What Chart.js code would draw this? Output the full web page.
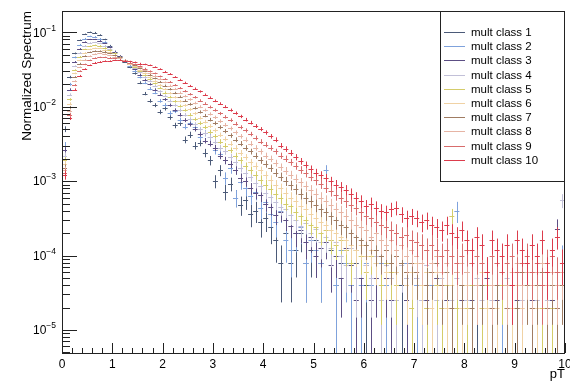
<!DOCTYPE html>
<html>
<head>
<meta charset="UTF-8">
<title>Normalized Spectrum</title>
<script src="https://cdn.jsdelivr.net/npm/chart.js@4.4.0/dist/chart.umd.min.js"></script>
<style>
    html, body { margin: 0; padding: 0; background: #fff; }
</style>
</head>
<body>
<canvas id="spectrum" width="570" height="384"></canvas>
<script>
// pT binning: 100 bins of 0.1 from 0 to 10
var binWidth = 0.1;
var binCenters = [
    0.05, 0.15, 0.25, 0.35, 0.45, 0.55, 0.65, 0.75, 0.85, 0.95,
    1.05, 1.15, 1.25, 1.35, 1.45, 1.55, 1.65, 1.75, 1.85, 1.95,
    2.05, 2.15, 2.25, 2.35, 2.45, 2.55, 2.65, 2.75, 2.85, 2.95,
    3.05, 3.15, 3.25, 3.35, 3.45, 3.55, 3.65, 3.75, 3.85, 3.95,
    4.05, 4.15, 4.25, 4.35, 4.45, 4.55, 4.65, 4.75, 4.85, 4.95,
    5.05, 5.15, 5.25, 5.35, 5.45, 5.55, 5.65, 5.75, 5.85, 5.95,
    6.05, 6.15, 6.25, 6.35, 6.45, 6.55, 6.65, 6.75, 6.85, 6.95,
    7.05, 7.15, 7.25, 7.35, 7.45, 7.55, 7.65, 7.75, 7.85, 7.95,
    8.05, 8.15, 8.25, 8.35, 8.45, 8.55, 8.65, 8.75, 8.85, 8.95,
    9.05, 9.15, 9.25, 9.35, 9.45, 9.55, 9.65, 9.75, 9.85, 9.95
];

var classLabels = ['mult class 1', 'mult class 2', 'mult class 3', 'mult class 4', 'mult class 5',
                   'mult class 6', 'mult class 7', 'mult class 8', 'mult class 9', 'mult class 10'];
var classColors = ['#4b5a78', '#7fa2dc', '#5c4e84', '#c2c0d8', '#d4cc6a',
                   '#f0d2a4', '#a07c62', '#e6b4a4', '#d86c6c', '#dc3c4c'];
// entries per class, used for the statistical errors of the normalized bins
var classEntries = [25000, 25000, 40000, 40000, 50000, 50000, 50000, 50000, 50000, 50000];

var mult1 = [
    5.0e-3, 2.5e-2, 5.2e-2, 7.8e-2, 9.4e-2, 1.0e-1, 9.9e-2, 9.2e-2, 8.0e-2, 6.6e-2,
    5.5e-2, 4.7e-2, 4.0e-2, 3.4e-2, 2.8e-2, 2.1e-2, 1.5e-2, 1.2e-2, 1.05e-2, 8.5e-3,
    9.5e-3, 7.2e-3, 5.6e-3, 6.0e-3, 3.6e-3, 4.2e-3, 3.0e-3, 3.3e-3, 2.4e-3, 1.9e-3,
    1.0e-3, 1.4e-3, 7.2e-4, 9.2e-4, 6.0e-4, 4.8e-4, 5.6e-4, 3.6e-4, 4.0e-4, 2.8e-4,
    3.2e-4, 2.4e-4, 1.6e-4, 8e-5, 2.0e-4, 8e-5, 1.2e-4, 2.0e-4, 8e-5, 1.2e-4,
    1.6e-4, 8e-5, null, 1.2e-4, 4e-5, 8e-5, 1.2e-4, 4e-5, 8e-5, null,
    4e-5, null, 8e-5, null, 4e-5, null, null, 4e-5, null, null,
    null, 4e-5, null, null, null, 4e-5, null, null, null, null,
    null, null, 4e-5, null, null, null, null, null, 4e-5, null,
    null, null, null, null, null, 4e-5, null, null, null, null
];
var mult2 = [
    3.0e-3, 2.0e-2, 4.6e-2, 6.8e-2, 8.2e-2, 8.8e-2, 8.7e-2, 8.2e-2, 7.4e-2, 6.4e-2,
    5.5e-2, 4.8e-2, 4.1e-2, 3.5e-2, 3.0e-2, 2.5e-2, 2.1e-2, 1.75e-2, 1.55e-2, 1.2e-2,
    1.05e-2, 8.2e-3, 8.8e-3, 6.6e-3, 5.4e-3, 6.0e-3, 5.4e-3, 3.9e-3, 4.4e-3, 3.9e-3,
    2.6e-3, 2.3e-3, 1.1e-3, 1.5e-3, 6.0e-4, 9.6e-4, 8.0e-4, 6.4e-4, 7.2e-4, 4.4e-4,
    5.2e-4, 3.6e-4, 2.8e-4, 4.0e-4, 1.6e-4, 1.2e-4, 2.0e-4, 2.4e-4, 8e-5, 1.6e-4,
    1.2e-4, 8e-5, 1.4e-3, 1.6e-4, 4e-5, 1.2e-4, 8e-5, 4e-5, 1.2e-4, 4e-5,
    8e-5, 4e-5, null, 8e-5, 4e-5, null, 4e-5, null, 8e-5, null,
    4e-5, null, null, 4e-5, null, null, 4e-5, null, 4.0e-4, null,
    null, 4e-5, null, 4e-5, null, null, null, 4e-5, null, null,
    4e-5, null, null, null, 4e-5, null, null, null, null, 8e-5
];
var mult3 = [
    2.6e-3, 1.7e-2, 4.0e-2, 6.0e-2, 7.4e-2, 8.0e-2, 8.0e-2, 7.7e-2, 7.1e-2, 6.3e-2,
    5.5e-2, 4.8e-2, 4.2e-2, 3.7e-2, 3.2e-2, 2.7e-2, 2.3e-2, 2.0e-2, 1.7e-2, 1.45e-2,
    1.25e-2, 1.05e-2, 9.0e-3, 7.8e-3, 6.6e-3, 5.8e-3, 5.0e-3, 4.3e-3, 3.5e-3, 3.2e-3,
    2.8e-3, 2.2e-3, 1.9e-3, 1.7e-3, 1.4e-3, 1.1e-3, 1.0e-3, 8.0e-4, 7.0e-4, 6.5e-4,
    5.0e-4, 4.5e-4, 3.5e-4, 3.8e-4, 3.0e-4, 2.5e-4, 2.0e-4, 2.2e-4, 1.5e-4, 1.75e-4,
    1.0e-4, 1.25e-4, 1.5e-4, 7.5e-5, 1.0e-4, 5e-5, 1.25e-4, 7.5e-5, 2.5e-5, 5e-5,
    7.5e-5, 2.5e-5, 5e-5, null, 5e-5, 2.5e-5, null, 7.5e-5, 2.5e-5, null,
    5e-5, null, 2.5e-5, null, 5e-5, null, 2.5e-5, null, null, 2.5e-5,
    null, 2.5e-5, null, null, 5e-5, null, 2.5e-5, null, null, null,
    2.5e-5, null, null, 2.5e-5, null, null, null, 2.5e-5, 2.3e-4, null
];
var mult4 = [
    2.2e-3, 1.45e-2, 3.5e-2, 5.3e-2, 6.6e-2, 7.2e-2, 7.3e-2, 7.1e-2, 6.6e-2, 6.0e-2,
    5.3e-2, 4.7e-2, 4.2e-2, 3.7e-2, 3.3e-2, 2.9e-2, 2.5e-2, 2.2e-2, 1.9e-2, 1.6e-2,
    1.4e-2, 1.2e-2, 1.05e-2, 9.0e-3, 7.8e-3, 6.8e-3, 5.8e-3, 5.0e-3, 4.4e-3, 3.9e-3,
    3.4e-3, 2.8e-3, 2.5e-3, 2.1e-3, 1.8e-3, 1.5e-3, 1.3e-3, 1.15e-3, 9.5e-4, 8.5e-4,
    7.0e-4, 6.2e-4, 5.2e-4, 4.5e-4, 4.2e-4, 3.5e-4, 3.0e-4, 2.5e-4, 2.75e-4, 2.0e-4,
    2.25e-4, 1.5e-4, 1.75e-4, 1.25e-4, 1.5e-4, 1.0e-4, 7.5e-5, 1.25e-4, 5e-5, 1.0e-4,
    7.5e-5, 5e-5, 1.0e-4, 2.5e-5, 7.5e-5, 5e-5, 2.5e-5, 7.5e-5, 5e-5, null,
    5e-5, 2.5e-5, 7.5e-5, null, 2.5e-5, 5e-5, null, 2.5e-5, 5e-5, null,
    2.5e-5, null, 5e-5, 2.5e-5, null, 2.5e-5, null, null, 5e-5, null,
    null, 2.5e-5, null, null, 2.5e-5, null, 2.5e-5, null, null, 5.5e-4
];
var mult5 = [
    1.9e-3, 1.25e-2, 3.1e-2, 4.7e-2, 5.9e-2, 6.5e-2, 6.7e-2, 6.6e-2, 6.2e-2, 5.8e-2,
    5.2e-2, 4.7e-2, 4.2e-2, 3.8e-2, 3.4e-2, 3.0e-2, 2.65e-2, 2.35e-2, 2.05e-2, 1.8e-2,
    1.55e-2, 1.35e-2, 1.18e-2, 1.02e-2, 9.0e-3, 7.8e-3, 6.8e-3, 6.0e-3, 5.3e-3, 4.6e-3,
    4.0e-3, 3.4e-3, 3.0e-3, 2.6e-3, 2.2e-3, 1.9e-3, 1.6e-3, 1.4e-3, 1.2e-3, 1.05e-3,
    9.0e-4, 7.8e-4, 6.8e-4, 6.0e-4, 5.0e-4, 4.6e-4, 3.8e-4, 3.4e-4, 3.0e-4, 2.6e-4,
    2.4e-4, 2.0e-4, 2.2e-4, 1.6e-4, 1.4e-4, 1.6e-4, 1.2e-4, 8e-5, 1.2e-4, 1.0e-4,
    6e-5, 1.0e-4, 8e-5, 4e-5, 8e-5, 6e-5, 4e-5, 8e-5, 6e-5, 2e-5,
    6e-5, 4e-5, 2e-5, 6e-5, 4e-5, 2e-5, 4e-5, 3.4e-4, 2e-5, 4e-5,
    2e-5, 4e-5, null, 2e-5, 4e-5, 2e-5, null, 4e-5, 2e-5, null,
    2e-5, null, 4e-5, 2e-5, null, 2e-5, null, 2e-5, 4e-5, null
];
var mult6 = [
    1.7e-3, 1.1e-2, 2.8e-2, 4.2e-2, 5.3e-2, 5.9e-2, 6.1e-2, 6.1e-2, 5.8e-2, 5.5e-2,
    5.0e-2, 4.6e-2, 4.2e-2, 3.8e-2, 3.5e-2, 3.1e-2, 2.8e-2, 2.5e-2, 2.2e-2, 1.95e-2,
    1.72e-2, 1.52e-2, 1.34e-2, 1.18e-2, 1.04e-2, 9.2e-3, 8.1e-3, 7.1e-3, 6.3e-3, 5.5e-3,
    4.8e-3, 4.2e-3, 3.7e-3, 3.2e-3, 2.8e-3, 2.4e-3, 2.1e-3, 1.8e-3, 1.6e-3, 1.4e-3,
    1.2e-3, 1.05e-3, 9.0e-4, 8.0e-4, 7.0e-4, 6.0e-4, 5.4e-4, 4.6e-4, 4.2e-4, 3.6e-4,
    3.2e-4, 2.8e-4, 2.6e-4, 2.2e-4, 2.0e-4, 1.8e-4, 1.6e-4, 1.4e-4, 1.2e-4, 1.4e-4,
    1.0e-4, 1.2e-4, 8e-5, 1.0e-4, 6e-5, 8e-5, 6e-5, 8e-5, 4e-5, 6e-5,
    8e-5, 4e-5, 6e-5, 2e-5, 6e-5, 4e-5, 2e-5, 4e-5, 6e-5, 2e-5,
    4e-5, 2e-5, 4e-5, 6e-5, 2e-5, 4e-5, 2e-5, null, 4e-5, 2e-5,
    4e-5, 2e-5, null, 4e-5, 2e-5, 4e-5, 2e-5, null, 2e-5, 4e-5
];
var mult7 = [
    1.5e-3, 9.8e-3, 2.5e-2, 3.8e-2, 4.8e-2, 5.4e-2, 5.6e-2, 5.6e-2, 5.5e-2, 5.2e-2,
    4.9e-2, 4.6e-2, 4.2e-2, 3.9e-2, 3.6e-2, 3.3e-2, 3.0e-2, 2.7e-2, 2.4e-2, 2.15e-2,
    1.92e-2, 1.72e-2, 1.53e-2, 1.36e-2, 1.21e-2, 1.08e-2, 9.6e-3, 8.5e-3, 7.6e-3, 6.7e-3,
    6.0e-3, 5.3e-3, 4.7e-3, 4.1e-3, 3.6e-3, 3.2e-3, 2.8e-3, 2.5e-3, 2.2e-3, 1.9e-3,
    1.7e-3, 1.5e-3, 1.3e-3, 1.15e-3, 1.0e-3, 8.8e-4, 7.8e-4, 6.8e-4, 6.0e-4, 5.4e-4,
    4.8e-4, 4.2e-4, 3.8e-4, 3.4e-4, 3.0e-4, 2.6e-4, 2.4e-4, 2.0e-4, 1.8e-4, 1.6e-4,
    1.4e-4, 1.6e-4, 1.2e-4, 1.0e-4, 1.2e-4, 8e-5, 1.0e-4, 8e-5, 6e-5, 8e-5,
    6e-5, 8e-5, 4e-5, 6e-5, 8e-5, 4e-5, 6e-5, 2e-5, 6e-5, 4e-5,
    6e-5, 2e-5, 4e-5, 4e-5, 6e-5, 2e-5, 4e-5, 6e-5, 2e-5, 4e-5,
    2e-5, 6e-5, 4e-5, 2e-5, 4e-5, 6e-5, 2e-5, 4e-5, 2e-5, 4e-5
];
var mult8 = [
    1.4e-3, 8.8e-3, 2.2e-2, 3.4e-2, 4.3e-2, 4.8e-2, 5.1e-2, 5.2e-2, 5.1e-2, 4.9e-2,
    4.7e-2, 4.5e-2, 4.2e-2, 3.9e-2, 3.7e-2, 3.4e-2, 3.1e-2, 2.85e-2, 2.6e-2, 2.35e-2,
    2.12e-2, 1.92e-2, 1.73e-2, 1.55e-2, 1.39e-2, 1.25e-2, 1.12e-2, 1.0e-2, 9.0e-3, 8.0e-3,
    7.2e-3, 6.4e-3, 5.7e-3, 5.1e-3, 4.5e-3, 4.0e-3, 3.6e-3, 3.2e-3, 2.8e-3, 2.5e-3,
    2.2e-3, 2.0e-3, 1.75e-3, 1.55e-3, 1.38e-3, 1.22e-3, 1.08e-3, 9.6e-4, 8.6e-4, 7.6e-4,
    6.8e-4, 6.0e-4, 5.4e-4, 4.8e-4, 4.2e-4, 3.8e-4, 3.4e-4, 3.0e-4, 2.6e-4, 2.4e-4,
    2.2e-4, 1.8e-4, 2.0e-4, 1.6e-4, 1.4e-4, 1.6e-4, 1.2e-4, 1.4e-4, 1.0e-4, 1.2e-4,
    1.0e-4, 8e-5, 1.2e-4, 8e-5, 1.0e-4, 6e-5, 8e-5, 1.0e-4, 6e-5, 8e-5,
    6e-5, 8e-5, 4e-5, 8e-5, 6e-5, 4e-5, 8e-5, 6e-5, 4e-5, 6e-5,
    8e-5, 4e-5, 6e-5, 4e-5, 6e-5, 8e-5, 4e-5, 6e-5, 4e-5, 6e-5
];
var mult9 = [
    1.3e-3, 7.8e-3, 1.95e-2, 3.0e-2, 3.7e-2, 4.2e-2, 4.5e-2, 4.6e-2, 4.6e-2, 4.55e-2,
    4.45e-2, 4.3e-2, 4.1e-2, 3.9e-2, 3.7e-2, 3.5e-2, 3.25e-2, 3.0e-2, 2.8e-2, 2.55e-2,
    2.35e-2, 2.15e-2, 1.95e-2, 1.78e-2, 1.62e-2, 1.47e-2, 1.34e-2, 1.21e-2, 1.1e-2, 9.9e-3,
    9.0e-3, 8.1e-3, 7.3e-3, 6.6e-3, 5.9e-3, 5.3e-3, 4.8e-3, 4.3e-3, 3.8e-3, 3.4e-3,
    3.1e-3, 2.8e-3, 2.5e-3, 2.2e-3, 2.0e-3, 1.8e-3, 1.6e-3, 1.42e-3, 1.28e-3, 1.15e-3,
    1.02e-3, 9.2e-4, 8.2e-4, 7.4e-4, 6.6e-4, 6.0e-4, 5.4e-4, 4.8e-4, 4.4e-4, 3.8e-4,
    3.4e-4, 3.2e-4, 2.8e-4, 2.6e-4, 2.4e-4, 2.2e-4, 2.0e-4, 1.8e-4, 1.9e-4, 1.6e-4,
    1.5e-4, 1.4e-4, 1.2e-4, 1.4e-4, 1.2e-4, 1.0e-4, 1.2e-4, 1.0e-4, 8e-5, 1.0e-4,
    1.2e-4, 8e-5, 1.0e-4, 8e-5, 6e-5, 1.0e-4, 8e-5, 6e-5, 8e-5, 1.0e-4,
    6e-5, 8e-5, 1.0e-4, 6e-5, 8e-5, 4e-5, 8e-5, 1.0e-4, 6e-5, 8e-5
];
var mult10 = [
    1.2e-3, 7.0e-3, 1.7e-2, 2.6e-2, 3.2e-2, 3.6e-2, 3.9e-2, 4.0e-2, 4.1e-2, 4.1e-2,
    4.2e-2, 4.2e-2, 4.15e-2, 4.05e-2, 3.95e-2, 3.8e-2, 3.7e-2, 3.6e-2, 3.4e-2, 3.2e-2,
    2.95e-2, 2.75e-2, 2.5e-2, 2.3e-2, 2.1e-2, 1.9e-2, 1.75e-2, 1.6e-2, 1.45e-2, 1.32e-2,
    1.2e-2, 1.1e-2, 1.0e-2, 9.0e-3, 8.2e-3, 7.4e-3, 6.7e-3, 6.1e-3, 5.5e-3, 5.0e-3,
    4.5e-3, 4.0e-3, 3.6e-3, 3.0e-3, 2.7e-3, 2.4e-3, 2.1e-3, 1.85e-3, 1.65e-3, 1.45e-3,
    1.3e-3, 1.2e-3, 1.1e-3, 1.0e-3, 9.0e-4, 8.4e-4, 7.6e-4, 6.8e-4, 6.0e-4, 5.4e-4,
    4.6e-4, 5.0e-4, 4.4e-4, 4.0e-4, 3.8e-4, 4.2e-4, 4.4e-4, 3.6e-4, 3.2e-4, 3.4e-4,
    3.2e-4, 2.8e-4, 3.0e-4, 2.6e-4, 2.4e-4, 2.2e-4, 2.6e-4, 2.0e-4, 1.8e-4, 2.2e-4,
    1.6e-4, 1.2e-4, 1.8e-4, 1.4e-4, 6e-5, 1.6e-4, 1.2e-4, 1.0e-4, 1.4e-4, 4e-5,
    1.6e-4, 1.2e-4, 8e-5, 1.4e-4, 1.0e-4, 1.6e-4, 6e-5, 1.2e-4, 1.8e-4, 8e-5
];

var classValues = [mult1, mult2, mult3, mult4, mult5, mult6, mult7, mult8, mult9, mult10];
var yDecades = [1e-1, 1e-2, 1e-3, 1e-4, 1e-5];
var xMajorTicks = [0, 1, 2, 3, 4, 5, 6, 7, 8, 9, 10];

var fontFamily = '"Liberation Sans", Arial, Helvetica, sans-serif';

// one dataset per multiplicity class, each bin carries its poisson error
var datasets = classValues.map(function (values, c) {
    var points = [];
    for (var i = 0; i < values.length; i++) {
        if (values[i] === null) continue;
        points.push({x: binCenters[i], y: values[i], err: Math.sqrt(values[i] / classEntries[c])});
    }
    return {
        label: classLabels[c],
        data: points,
        borderColor: classColors[c],
        backgroundColor: classColors[c],
        pointRadius: 0,
        showLine: false
    };
});

// horizontal bin width + vertical error, like a histogram drawn with "E"
var errorBars = {
    id: 'errorBars',
    afterDatasetsDraw: function (chart) {
        var ctx = chart.ctx, xs = chart.scales.x, ys = chart.scales.y, a = chart.chartArea;
        ctx.save();
        ctx.beginPath();
        ctx.rect(a.left, a.top, a.right - a.left, a.bottom - a.top);
        ctx.clip();
        ctx.lineWidth = 1;
        chart.data.datasets.forEach(function (ds) {
            ctx.strokeStyle = ds.borderColor;
            ctx.beginPath();
            ds.data.forEach(function (p) {
                var yc = Math.round(ys.getPixelForValue(p.y)) + 0.5;
                var xc = Math.round(xs.getPixelForValue(p.x)) + 0.5;
                var x0 = xs.getPixelForValue(p.x - binWidth / 2);
                var x1 = xs.getPixelForValue(p.x + binWidth / 2);
                var lo = p.y - p.err;
                var yTop = ys.getPixelForValue(p.y + p.err);
                var yBot = lo > ys.min ? ys.getPixelForValue(lo) : a.bottom;
                ctx.moveTo(x0, yc);
                ctx.lineTo(x1, yc);
                ctx.moveTo(xc, yTop);
                ctx.lineTo(xc, yBot);
            });
            ctx.stroke();
        });
        ctx.restore();
    }
};

// frame, inward ticks, 10^n labels and the legend box
var frameAndLegend = {
    id: 'frameAndLegend',
    afterDraw: function (chart) {
        var ctx = chart.ctx, xs = chart.scales.x, ys = chart.scales.y, a = chart.chartArea;
        ctx.save();
        ctx.strokeStyle = '#222';
        ctx.lineWidth = 1;
        ctx.beginPath();

        // y ticks
        for (var e = -6; e <= -1; e++) {
            for (var m = 1; m <= 9; m++) {
                var v = m * Math.pow(10, e);
                if (v < ys.min || v > ys.max) continue;
                var py = Math.round(ys.getPixelForValue(v)) + 0.5;
                ctx.moveTo(a.left, py);
                ctx.lineTo(a.left + (m === 1 ? 15 : 8), py);
            }
        }
        // x ticks
        for (var k = 0; k <= 50; k++) {
            var xv = k * 0.2;
            var px = Math.round(xs.getPixelForValue(xv)) + 0.5;
            var major = k % 5 === 0;
            ctx.moveTo(px, a.bottom);
            ctx.lineTo(px, a.bottom - (major ? 10 : 5));
        }
        ctx.stroke();

        ctx.strokeRect(a.left + 0.5, a.top + 0.5, a.right - a.left - 1, a.bottom - a.top);

        // decade labels with superscript exponents
        ctx.fillStyle = '#000';
        ctx.textBaseline = 'middle';
        yDecades.forEach(function (d) {
            var py = ys.getPixelForValue(d);
            var exp = '\u2212' + Math.round(-Math.log10(d));
            ctx.font = '8.5px ' + fontFamily;
            var ew = ctx.measureText(exp).width;
            var right = a.left - 6;
            ctx.textAlign = 'left';
            ctx.fillText(exp, right - ew, py - 4);
            ctx.font = '12px ' + fontFamily;
            ctx.textAlign = 'right';
            ctx.fillText('10', right - ew, py + 1);
        });

        // legend
        var lx = 440, ly = a.top, lw = a.right - 440, lh = 171;
        ctx.fillStyle = '#fff';
        ctx.fillRect(lx, ly, lw, lh);
        ctx.strokeStyle = '#222';
        ctx.strokeRect(lx + 0.5, ly + 0.5, lw - 1, lh - 1);
        ctx.font = '11.5px ' + fontFamily;
        ctx.textAlign = 'left';
        chart.data.datasets.forEach(function (ds, i) {
            var ry = Math.round(ly + 21 + i * 14.2) + 0.5;
            ctx.strokeStyle = ds.borderColor;
            ctx.beginPath();
            ctx.moveTo(lx + 4, ry);
            ctx.lineTo(lx + 25, ry);
            ctx.stroke();
            ctx.fillStyle = '#000';
            ctx.fillText(ds.label, lx + 31, ry + 0.5);
        });
        ctx.restore();
    }
};

var chart = new Chart(document.getElementById('spectrum'), {
    type: 'scatter',
    data: {datasets: datasets},
    options: {
        responsive: false,
        animation: false,
        devicePixelRatio: 1,
        layout: {padding: {top: 11, right: 5, left: 0, bottom: 0}},
        plugins: {legend: {display: false}, tooltip: {enabled: false}},
        scales: {
            x: {
                type: 'linear',
                min: 0,
                max: 10,
                grid: {display: false, drawTicks: false},
                border: {display: false},
                afterBuildTicks: function (scale) {
                    scale.ticks = xMajorTicks.map(function (t) { return {value: t}; });
                },
                ticks: {
                    color: '#000',
                    padding: 4,
                    maxRotation: 0,
                    autoSkip: false,
                    font: {family: fontFamily, size: 12}
                },
                title: {
                    display: true,
                    text: 'pT',
                    align: 'end',
                    color: '#000',
                    font: {family: fontFamily, size: 13},
                    padding: {top: 0, bottom: 2}
                },
                afterFit: function (scale) {
                    scale.height = 31;
                    scale.paddingLeft = 0;
                    scale.paddingRight = 0;
                }
            },
            y: {
                type: 'logarithmic',
                min: 4.9e-6,
                max: 0.193,
                grid: {display: false, drawTicks: false},
                border: {display: false},
                ticks: {display: false},
                title: {
                    display: true,
                    text: 'Normalized Spectrum',
                    align: 'end',
                    color: '#000',
                    font: {family: fontFamily, size: 13.5},
                    padding: {top: 19, bottom: 0}
                },
                afterFit: function (scale) {
                    scale.width = 62;
                }
            }
        }
    },
    plugins: [errorBars, frameAndLegend]
});
</script>
</body>
</html>
